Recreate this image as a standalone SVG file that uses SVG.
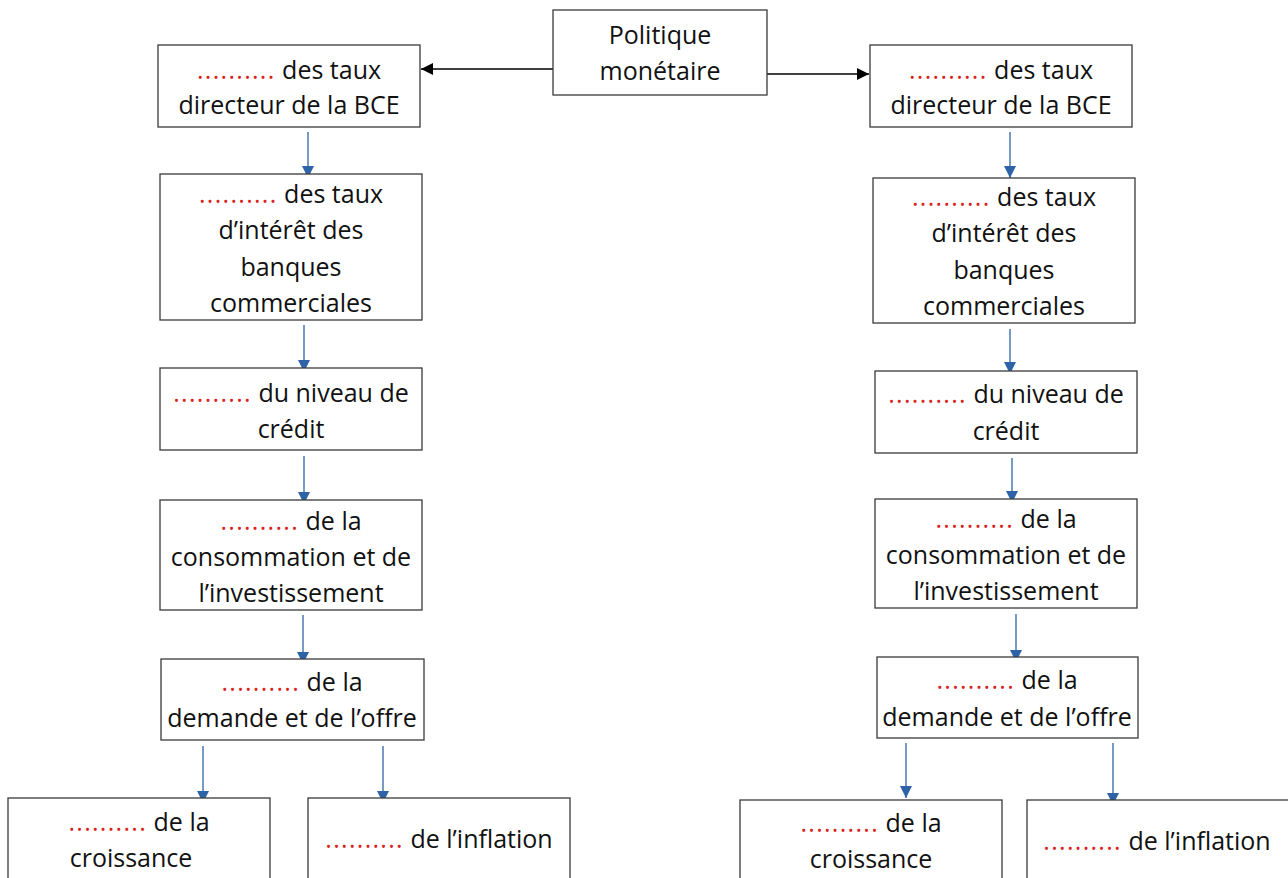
<svg xmlns="http://www.w3.org/2000/svg" width="1288" height="878" viewBox="0 0 1288 878">
<style>
.box{fill:#fff;stroke:#3a3a3a;stroke-width:1.3}
text{font-family:"Open Sans",Lato,"Liberation Sans",sans-serif;font-size:25px;fill:#111;text-anchor:middle;dominant-baseline:central}
.d{fill:#d9231d;letter-spacing:1.3px}
.b{stroke:#2f63a8;stroke-width:1.3;fill:none}
.k{stroke:#000;stroke-width:1.3;fill:none}
</style>
<defs>
<marker id="ab" markerWidth="12" markerHeight="12" refX="12" refY="6" orient="auto" markerUnits="userSpaceOnUse"><path d="M0,0 L12,6 L0,12 Z" fill="#2f63a8"/></marker>
<marker id="ak" markerWidth="12" markerHeight="12" refX="12" refY="6" orient="auto" markerUnits="userSpaceOnUse"><path d="M0,0 L12,6 L0,12 Z" fill="#000"/></marker>
</defs>
<rect width="1288" height="878" fill="#fff"/>
<g id="connectors">
<line class="k" x1="553" y1="69" x2="421" y2="69" marker-end="url(#ak)"/>
<line class="k" x1="767" y1="74" x2="869" y2="74" marker-end="url(#ak)"/>
<line class="b" x1="308" y1="132" x2="308" y2="178" marker-end="url(#ab)"/>
<line class="b" x1="304" y1="325" x2="304" y2="372" marker-end="url(#ab)"/>
<line class="b" x1="304" y1="456" x2="304" y2="504" marker-end="url(#ab)"/>
<line class="b" x1="303" y1="615" x2="303" y2="664" marker-end="url(#ab)"/>
<line class="b" x1="203" y1="746" x2="203" y2="803" marker-end="url(#ab)"/>
<line class="b" x1="383" y1="746" x2="383" y2="803" marker-end="url(#ab)"/>
<line class="b" x1="1010" y1="132" x2="1010" y2="178" marker-end="url(#ab)"/>
<line class="b" x1="1010" y1="329" x2="1010" y2="374" marker-end="url(#ab)"/>
<line class="b" x1="1012" y1="458" x2="1012" y2="503" marker-end="url(#ab)"/>
<line class="b" x1="1016" y1="614" x2="1016" y2="662" marker-end="url(#ab)"/>
<line class="b" x1="906" y1="743" x2="906" y2="798" marker-end="url(#ab)"/>
<line class="b" x1="1113" y1="743" x2="1113" y2="805" marker-end="url(#ab)"/>
</g>
<g id="politique"><rect class="box" x="553" y="10" width="214" height="85"/><text x="660" y="34">Politique</text><text x="660" y="70">monétaire</text></g>
<g id="l1"><rect class="box" x="158" y="45" width="262" height="82"/><text x="289" y="69"><tspan class="d">..........</tspan> des taux</text><text x="289" y="104">directeur de la BCE</text></g>
<g id="l2"><rect class="box" x="160" y="174" width="262" height="146"/><text x="291" y="193"><tspan class="d">..........</tspan> des taux</text><text x="291" y="229">d’intérêt des</text><text x="291" y="266">banques</text><text x="291" y="302">commerciales</text></g>
<g id="l3"><rect class="box" x="160" y="368" width="262" height="82"/><text x="291" y="392"><tspan class="d">..........</tspan> du niveau de</text><text x="291" y="428">crédit</text></g>
<g id="l4"><rect class="box" x="160" y="500" width="262" height="110"/><text x="291" y="520"><tspan class="d">..........</tspan> de la</text><text x="291" y="556">consommation et de</text><text x="291" y="592">l’investissement</text></g>
<g id="l5"><rect class="box" x="161" y="659" width="263" height="81"/><text x="292" y="681"><tspan class="d">..........</tspan> de la</text><text x="292" y="717">demande et de l’offre</text></g>
<g id="l6"><rect class="box" x="8" y="798" width="262" height="90"/><text x="139" y="821"><tspan class="d">..........</tspan> de la</text><text x="131" y="857">croissance</text></g>
<g id="l7"><rect class="box" x="308" y="798" width="262" height="90"/><text x="439" y="838"><tspan class="d">..........</tspan> de l’inflation</text></g>
<g id="r1"><rect class="box" x="870" y="45" width="262" height="82"/><text x="1001" y="69"><tspan class="d">..........</tspan> des taux</text><text x="1001" y="104">directeur de la BCE</text></g>
<g id="r2"><rect class="box" x="873" y="178" width="262" height="145"/><text x="1004" y="196"><tspan class="d">..........</tspan> des taux</text><text x="1004" y="232">d’intérêt des</text><text x="1004" y="269">banques</text><text x="1004" y="305">commerciales</text></g>
<g id="r3"><rect class="box" x="875" y="371" width="262" height="82"/><text x="1006" y="393"><tspan class="d">..........</tspan> du niveau de</text><text x="1006" y="430">crédit</text></g>
<g id="r4"><rect class="box" x="875" y="499" width="262" height="109"/><text x="1006" y="518"><tspan class="d">..........</tspan> de la</text><text x="1006" y="554">consommation et de</text><text x="1006" y="590">l’investissement</text></g>
<g id="r5"><rect class="box" x="877" y="657" width="261" height="81"/><text x="1007" y="679"><tspan class="d">..........</tspan> de la</text><text x="1007" y="716">demande et de l’offre</text></g>
<g id="r6"><rect class="box" x="740" y="800" width="262" height="90"/><text x="871" y="822"><tspan class="d">..........</tspan> de la</text><text x="871" y="858">croissance</text></g>
<g id="r7"><rect class="box" x="1027" y="800" width="262" height="90"/><text x="1157" y="840"><tspan class="d">..........</tspan> de l’inflation</text></g>
</svg>
